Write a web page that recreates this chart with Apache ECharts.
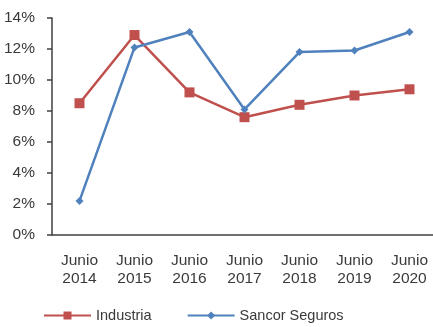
<!DOCTYPE html>
<html>
<head>
<meta charset="utf-8">
<script src="https://cdn.jsdelivr.net/npm/echarts@6/dist/echarts.min.js"></script>
<style>
  html, body { margin: 0; padding: 0; background: #fff; }
  #chart { width: 433px; height: 327px; }
</style>
</head>
<body>
<div id="chart"></div>
<script>
const categories = ['Junio\n2014', 'Junio\n2015', 'Junio\n2016', 'Junio\n2017', 'Junio\n2018', 'Junio\n2019', 'Junio\n2020']
const industria = [8.5, 12.9, 9.2, 7.6, 8.4, 9.0, 9.4]
const sancor = [2.2, 12.1, 13.1, 8.1, 11.8, 11.9, 13.1]

const textColor = '#3a3a3a'
const axisColor = '#404040'
const font = '"Liberation Sans", Arial, sans-serif'

const chart = echarts.init(document.getElementById('chart'))
chart.setOption({
  animation: false,
  textStyle: { fontFamily: font },
  grid: {
    left: 52,
    right: -4,
    top: 18,
    bottom: 92,
    outerBoundsMode: 'none'
  },
  legend: {
    top: 303,
    left: 38,
    itemWidth: 47,
    itemHeight: 10,
    itemGap: 35,
    textStyle: { color: textColor, fontSize: 14.5, fontFamily: font },
    data: ['Industria', 'Sancor Seguros']
  },
  xAxis: {
    type: 'category',
    data: categories,
    boundaryGap: true,
    axisLine: { lineStyle: { color: axisColor, width: 1.5 } },
    axisTick: { length: 5, lineStyle: { color: axisColor, width: 1.5 } },
    axisLabel: { color: textColor, fontSize: 15.5, lineHeight: 18, margin: 17, fontFamily: font }
  },
  yAxis: {
    type: 'value',
    min: 0,
    max: 14,
    interval: 2,
    axisLine: { show: true, lineStyle: { color: axisColor, width: 1.5 } },
    axisTick: { show: true, length: 5, lineStyle: { color: axisColor, width: 1.5 } },
    splitLine: { show: false },
    axisLabel: { color: textColor, fontSize: 15.5, margin: 17, formatter: '{value}%', fontFamily: font }
  },
  series: [
    {
      name: 'Industria',
      type: 'line',
      data: industria,
      symbol: 'rect',
      symbolSize: 10,
      lineStyle: { color: '#C0504D', width: 2.5 },
      itemStyle: { color: '#C0504D' }
    },
    {
      name: 'Sancor Seguros',
      type: 'line',
      data: sancor,
      symbol: 'diamond',
      symbolSize: 8,
      lineStyle: { color: '#4F81BD', width: 2.5 },
      itemStyle: { color: '#4F81BD' }
    }
  ]
})
</script>
</body>
</html>
